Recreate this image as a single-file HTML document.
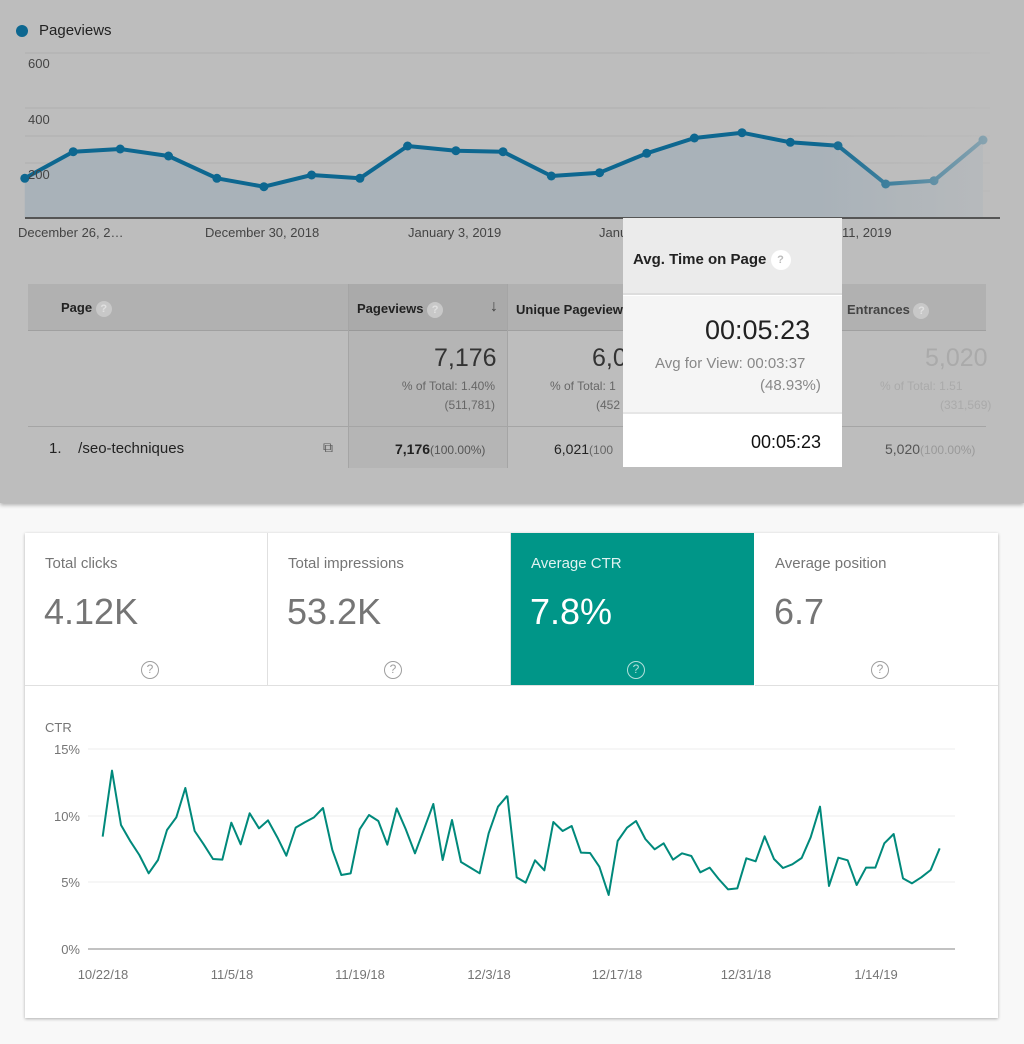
<!DOCTYPE html>
<html><head><meta charset="utf-8"><style>
*{margin:0;padding:0;box-sizing:border-box}
body{width:1024px;height:1044px;position:relative;overflow:hidden;background:#f8f8f8;font-family:"Liberation Sans",sans-serif}
.a{position:absolute}
.top{left:0;top:0;width:1024px;height:503px;background:#bdbdbd;box-shadow:0 2px 4px rgba(0,0,0,.3)}
.t{position:absolute;white-space:nowrap}
.q{display:inline-block;width:16px;height:16px;border-radius:50%;background:#c8c8c8;color:#e0e0e0;font-size:11px;text-align:center;line-height:16px;font-weight:bold;vertical-align:middle}
.card{left:25px;top:533px;width:973px;height:485px;background:#fff;box-shadow:0 1px 3px rgba(0,0,0,.3)}
.tab{position:absolute;top:0;height:153px;width:243px;border-right:1px solid #e0e0e0;border-bottom:1px solid #e0e0e0}
.tab .l{position:absolute;left:20px;top:22px;font-size:15px;color:#757575}
.tab .v{position:absolute;left:19px;top:58px;font-size:36px;color:#757575}
.tab .h{position:absolute;left:116px;top:128px;width:18px;height:18px;border:1.5px solid #9e9e9e;border-radius:50%;font-size:12px;color:#9e9e9e;text-align:center;line-height:15px}
</style></head><body>
<div class="a top">
<svg class="a" style="left:0;top:0" width="1024" height="503">
<defs><linearGradient id="fd" x1="0" x2="1"><stop offset="0.8" stop-color="#bdbdbd" stop-opacity="0"/><stop offset="1" stop-color="#bdbdbd" stop-opacity="0.85"/></linearGradient></defs>
<g stroke="#b0b0b0" stroke-width="1"><line x1="25" y1="53" x2="990" y2="53"/><line x1="25" y1="108" x2="990" y2="108"/><line x1="25" y1="136" x2="990" y2="136"/><line x1="25" y1="163" x2="990" y2="163"/><line x1="25" y1="191" x2="990" y2="191"/></g>
<polygon fill="#a9b2b9" points="24.8,218 24.8,178.3 73.2,151.7 120.2,149 168.5,156 216.9,178.3 263.9,186.7 311.6,175 359.9,178.3 407.6,146 455.9,150.7 503,151.7 551.3,176 599.6,172.7 646.7,153.3 694.4,138 742,132.7 790.3,142.3 838,145.7 885.7,184 934,180.7 983,140 983,218"/>
<polyline fill="none" stroke="#0d6790" stroke-width="4" stroke-linejoin="round" points="24.8,178.3 73.2,151.7 120.2,149 168.5,156 216.9,178.3 263.9,186.7 311.6,175 359.9,178.3 407.6,146 455.9,150.7 503,151.7 551.3,176 599.6,172.7 646.7,153.3 694.4,138 742,132.7 790.3,142.3 838,145.7 885.7,184 934,180.7 983,140"/>
<g fill="#0d6790"><circle cx="24.8" cy="178.3" r="4.5"/><circle cx="73.2" cy="151.7" r="4.5"/><circle cx="120.2" cy="149" r="4.5"/><circle cx="168.5" cy="156" r="4.5"/><circle cx="216.9" cy="178.3" r="4.5"/><circle cx="263.9" cy="186.7" r="4.5"/><circle cx="311.6" cy="175" r="4.5"/><circle cx="359.9" cy="178.3" r="4.5"/><circle cx="407.6" cy="146" r="4.5"/><circle cx="455.9" cy="150.7" r="4.5"/><circle cx="503" cy="151.7" r="4.5"/><circle cx="551.3" cy="176" r="4.5"/><circle cx="599.6" cy="172.7" r="4.5"/><circle cx="646.7" cy="153.3" r="4.5"/><circle cx="694.4" cy="138" r="4.5"/><circle cx="742" cy="132.7" r="4.5"/><circle cx="790.3" cy="142.3" r="4.5"/><circle cx="838" cy="145.7" r="4.5"/><circle cx="885.7" cy="184" r="4.5"/><circle cx="934" cy="180.7" r="4.5"/><circle cx="983" cy="140" r="4.5"/></g>
<rect x="0" y="40" width="1024" height="180" fill="url(#fd)"/>
<line x1="25" y1="218" x2="1000" y2="218" stroke="#555" stroke-width="2"/>
<circle cx="22" cy="31" r="6" fill="#0d6790"/>
</svg>
<div class="t" style="left:39px;top:22px;font-size:15px;color:#222">Pageviews</div>
<div class="t" style="left:28px;top:56px;font-size:13px;color:#444">600</div>
<div class="t" style="left:28px;top:112px;font-size:13px;color:#444">400</div>
<div class="t" style="left:28px;top:167px;font-size:13px;color:#444">200</div>
<div class="t" style="left:18px;top:225px;font-size:13px;color:#444">December 26, 2…</div>
<div class="t" style="left:205px;top:225px;font-size:13px;color:#444">December 30, 2018</div>
<div class="t" style="left:408px;top:225px;font-size:13px;color:#444">January 3, 2019</div>
<div class="t" style="left:599px;top:225px;font-size:13px;color:#444">Janu</div>
<div class="t" style="left:842px;top:225px;font-size:13px;color:#444">11, 2019</div>
<div class="a" style="left:28px;top:284px;width:958px;height:184px;background:#bdbdbd;border-top:1px solid #a8a8a8"></div>
<div class="a" style="left:28px;top:284px;width:958px;height:47px;background:#b1b1b1;border-bottom:1px solid #a0a0a0"></div>
<div class="a" style="left:348px;top:284px;width:160px;height:184px;background:rgba(0,0,0,.04);border-left:1px solid #a5a5a5;border-right:1px solid #a5a5a5"></div>
<div class="a" style="left:28px;top:426px;width:958px;height:1px;background:#a5a5a5"></div>
<div class="t" style="left:61px;top:300px;font-size:13px;font-weight:bold;color:#222">Page <span class="q">?</span></div>
<div class="t" style="left:357px;top:301px;font-size:13px;font-weight:bold;color:#222">Pageviews <span class="q">?</span></div>
<div class="t" style="left:490px;top:298px;font-size:16px;color:#444">↓</div>
<div class="t" style="left:516px;top:302px;font-size:13px;font-weight:bold;color:#222">Unique Pageviews</div>
<div class="t" style="left:847px;top:302px;font-size:13px;font-weight:bold;color:#444">Entrances <span class="q">?</span></div>
<div class="t" style="left:434px;top:344px;font-size:25px;color:#333">7,176</div>
<div class="t" style="left:397px;top:379px;font-size:12px;color:#666;text-align:right;width:98px">% of Total: 1.40%</div>
<div class="t" style="left:397px;top:398px;font-size:12px;color:#666;text-align:right;width:98px">(511,781)</div>
<div class="t" style="left:592px;top:344px;font-size:25px;color:#333">6,0</div>
<div class="t" style="left:550px;top:379px;font-size:12px;color:#666">% of Total: 1</div>
<div class="t" style="left:596px;top:398px;font-size:12px;color:#666">(452</div>
<div class="t" style="left:925px;top:344px;font-size:25px;color:#aaa">5,020</div>
<div class="t" style="left:880px;top:379px;font-size:12px;color:#aaa">% of Total: 1.51</div>
<div class="t" style="left:940px;top:398px;font-size:12px;color:#aaa">(331,569)</div>
<div class="t" style="left:49px;top:440px;font-size:15px;color:#222">1.&nbsp;&nbsp;&nbsp; /seo-techniques</div>
<div class="t" style="left:323px;top:439px;font-size:14px;color:#555">⧉</div>
<div class="t" style="left:395px;top:441px;font-size:14px;color:#222"><b>7,176</b><span style="font-size:12px;color:#555">(100.00%)</span></div>
<div class="t" style="left:554px;top:441px;font-size:14px;color:#222">6,021<span style="font-size:12px;color:#666">(100</span></div>
<div class="t" style="left:885px;top:441px;font-size:14px;color:#555">5,020<span style="font-size:12px;color:#999">(100.00%)</span></div>
<div class="a" style="left:623px;top:218px;width:219px;height:249px;background:#fff"></div>
<div class="a" style="left:623px;top:218px;width:219px;height:77px;background:#ebebeb;border-bottom:2px solid #ddd"></div>
<div class="a" style="left:623px;top:296px;width:219px;height:118px;background:#f5f5f5;border-bottom:2px solid #e6e6e6"></div>
<div class="t" style="left:633px;top:250px;font-size:15px;font-weight:bold;color:#222">Avg. Time on Page <span class="q" style="background:#fff;color:#bbb;width:20px;height:20px;line-height:20px">?</span></div>
<div class="t" style="left:705px;top:315px;font-size:27px;color:#222">00:05:23</div>
<div class="t" style="left:655px;top:355px;font-size:15px;color:#888">Avg for View: 00:03:37</div>
<div class="t" style="left:760px;top:377px;font-size:15px;color:#888">(48.93%)</div>
<div class="t" style="left:751px;top:432px;font-size:18px;color:#111">00:05:23</div>
</div>

<div class="a card">
<div class="tab" style="left:0"><div class="l">Total clicks</div><div class="v">4.12K</div><div class="h">?</div></div>
<div class="tab" style="left:243px"><div class="l">Total impressions</div><div class="v">53.2K</div><div class="h">?</div></div>
<div class="tab" style="left:486px;background:#009688;border-right:none"><div class="l" style="color:#e0f2f1">Average CTR</div><div class="v" style="color:#fff">7.8%</div><div class="h" style="border-color:#b2dfdb;color:#b2dfdb">?</div></div>
<div class="tab" style="left:730px;width:243px;border-right:none"><div class="l">Average position</div><div class="v">6.7</div><div class="h">?</div></div>
</div>
<svg class="a" style="left:0;top:0" width="1024" height="1044">
<g stroke="#eeeeee" stroke-width="1"><line x1="88" y1="749" x2="955" y2="749"/><line x1="88" y1="816" x2="955" y2="816"/><line x1="88" y1="882" x2="955" y2="882"/></g>
<line x1="88" y1="949" x2="955" y2="949" stroke="#9e9e9e" stroke-width="1.2"/>
<g font-family="Liberation Sans, sans-serif" font-size="13" fill="#757575">
<text x="45" y="732">CTR</text>
<text x="80" y="754" text-anchor="end">15%</text><text x="80" y="821" text-anchor="end">10%</text><text x="80" y="887" text-anchor="end">5%</text><text x="80" y="954" text-anchor="end">0%</text>
<text x="103" y="979" text-anchor="middle">10/22/18</text><text x="232" y="979" text-anchor="middle">11/5/18</text><text x="360" y="979" text-anchor="middle">11/19/18</text><text x="489" y="979" text-anchor="middle">12/3/18</text><text x="617" y="979" text-anchor="middle">12/17/18</text><text x="746" y="979" text-anchor="middle">12/31/18</text><text x="876" y="979" text-anchor="middle">1/14/19</text>
</g>
<g fill="none" stroke="#00897b" stroke-width="6" stroke-linejoin="round">
<polyline transform="translate(20,700) scale(0.33333)" points="248,410 276,212 303,375 330,422 358,465 386,520 414,480 441,390 469,352 496,264 524,393 551,433 579,477 607,479 634,368 662,433 689,340 717,385 744,361 772,412 799,467 827,383 854,367 882,352 909,324 937,450 964,525 992,520 1019,388 1047,345 1075,363 1102,434 1130,325 1157,387 1185,460 1213,385 1240,312 1268,480 1296,360 1323,486 1351,503 1379,520 1406,400 1434,320 1462,287"/>
<polyline transform="translate(500,700) scale(0.33333)" points="22,287 50,532 77,548 105,481 133,511 160,366 188,393 215,378 243,458 270,459 298,500 326,585 353,423 381,383 408,363 436,417 464,448 491,430 519,479 546,460 574,468 601,517 629,503 656,537 684,568 712,565 739,475 767,484 794,409 822,477 849,504 877,493 905,474 932,412 960,320 987,558 1015,473 1043,481 1070,555 1098,503 1126,503 1153,430 1181,402 1209,535 1236,550 1264,532 1292,510 1319,445"/>
</g>
</svg>
</body></html>
